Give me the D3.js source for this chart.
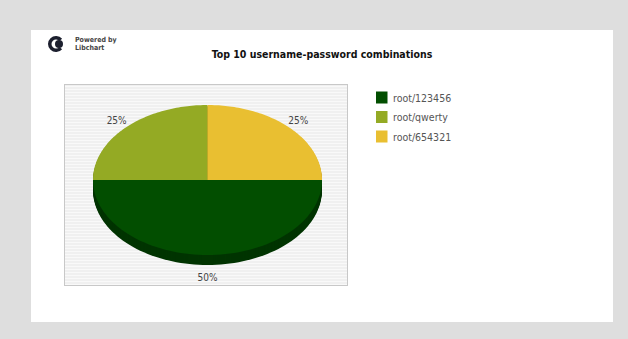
<!DOCTYPE html>
<html>
<head>
<meta charset="utf-8">
<script src="https://cdn.jsdelivr.net/npm/d3@7"></script>
<style>
  html, body { margin: 0; padding: 0; background: #dedede; }
  svg { display: block; }
  text { font-family: "DejaVu Sans Condensed", "DejaVu Sans", sans-serif; font-stretch: condensed; }
</style>
</head>
<body>
<svg id="chart" width="628" height="339"></svg>
<script>
// chart data
const chartTitle = 'Top 10 username-password combinations';
const labels = ['root/123456', 'root/qwerty', 'root/654321'];
const values = [2, 1, 1];
const colors = ['rgb(2, 78, 0)', 'rgb(148, 170, 36)', 'rgb(233, 191, 49)'];
const shadowColors = ['rgb(1, 52, 0)', 'rgb(100, 115, 24)', 'rgb(160, 130, 32)'];

const svg = d3.select('#chart');

// gray page + white panel
svg.append('rect')
  .attr('x', 0).attr('y', 0).attr('width', 628).attr('height', 339)
  .attr('fill', '#dedede');
svg.append('rect')
  .attr('x', 31).attr('y', 30).attr('width', 582).attr('height', 292)
  .attr('fill', '#ffffff');

// logo (C shape opening to the right + dot)
const logo = svg.append('g').attr('transform', 'translate(56,44)');
logo.append('path')
  .attr('d', d3.arc()({
    innerRadius: 4.5, outerRadius: 8, startAngle: Math.PI / 2 + 0.7, endAngle: Math.PI / 2 + 2 * Math.PI - 0.7,
  }))
  .attr('fill', '#1c1f2e');
logo.append('circle').attr('cx', 3).attr('cy', 0).attr('r', 4).attr('fill', '#1c1f2e');
svg.append('text').attr('x', 75).attr('y', 42).attr('font-size', 7).attr('font-weight', 'bold')
  .attr('fill', '#444').text('Powered by');
svg.append('text').attr('x', 75).attr('y', 50).attr('font-size', 7).attr('font-weight', 'bold')
  .attr('fill', '#444').text('Libchart');

// title
svg.append('text')
  .attr('x', 322).attr('y', 58)
  .attr('text-anchor', 'middle')
  .attr('font-size', 10.5)
  .attr('font-weight', 'bold')
  .attr('fill', '#111')
  .text(chartTitle);

// plot box with stripes
const box = { x: 64, y: 84, w: 284, h: 202 };
svg.append('rect')
  .attr('x', box.x).attr('y', box.y).attr('width', box.w).attr('height', box.h)
  .attr('fill', '#f0f0f0');
const stripes = d3.range(box.y + 2, box.y + box.h - 1, 3);
svg.append('g').selectAll('line').data(stripes).enter().append('line')
  .attr('x1', box.x + 1).attr('x2', box.x + box.w - 1)
  .attr('y1', d => d + 0.5).attr('y2', d => d + 0.5)
  .attr('stroke', '#f9f9f9').attr('stroke-width', 1);
svg.append('rect')
  .attr('x', box.x + 0.5).attr('y', box.y + 0.5).attr('width', box.w - 1).attr('height', box.h - 1)
  .attr('fill', 'none').attr('stroke', '#c8c8c8');

// pie (ellipse, libchart style: first slice starts at 3 o'clock, clockwise)
const cx = 207.5;
const cy = 180;
const rx = 114.5;
const ry = 75;
const depth = 10;
const total = d3.sum(values);
const angle = d3.scaleLinear().domain([0, total]).range([0, 2 * Math.PI]);

let acc = 0;
const slices = values.map((v, i) => {
  const s = { i, a0: angle(acc), a1: angle(acc + v), v };
  acc += v;
  return s;
});

function slicePath(s, dy) {
  const steps = 80;
  const pts = [[cx, cy + dy]];
  for (let k = 0; k <= steps; k += 1) {
    const a = s.a0 + ((s.a1 - s.a0) * k) / steps;
    pts.push([cx + rx * Math.cos(a), cy + dy + ry * Math.sin(a)]);
  }
  return `M${pts.map(p => p.join(',')).join('L')}Z`;
}

// shadow layers
const shade = svg.append('g');
for (let d = depth; d > 0; d -= 1) {
  shade.selectAll(null).data(slices).enter().append('path')
    .attr('d', s => slicePath(s, d))
    .attr('fill', s => shadowColors[s.i]);
}
svg.append('g').selectAll('path').data(slices).enter().append('path')
  .attr('d', s => slicePath(s, 0))
  .attr('fill', s => colors[s.i]);

// percent labels
svg.append('g').selectAll('text').data(slices).enter().append('text')
  .attr('x', (s) => {
    const a = (s.a0 + s.a1) / 2;
    return cx + (rx + 14) * Math.cos(a);
  })
  .attr('y', (s) => {
    const a = (s.a0 + s.a1) / 2;
    return cy + (ry + 20) * Math.sin(a) + (Math.sin(a) > 0 ? 6 : 11);
  })
  .attr('text-anchor', 'middle')
  .attr('font-size', 10)
  .attr('fill', '#444')
  .text(s => `${Math.round((s.v / total) * 100)}%`);

// legend
const legendY = d3.scaleBand().domain(labels).range([91.5, 150]).paddingInner(0);
const legend = svg.append('g').selectAll('g').data(labels).enter().append('g')
  .attr('transform', d => `translate(376,${legendY(d)})`);
legend.append('rect')
  .attr('width', 11.5).attr('height', 12)
  .attr('fill', (d, i) => colors[i]);
legend.append('text')
  .attr('x', 17).attr('y', 10)
  .attr('font-size', 10.5)
  .attr('fill', '#555')
  .text(d => d);
</script>
</body>
</html>
